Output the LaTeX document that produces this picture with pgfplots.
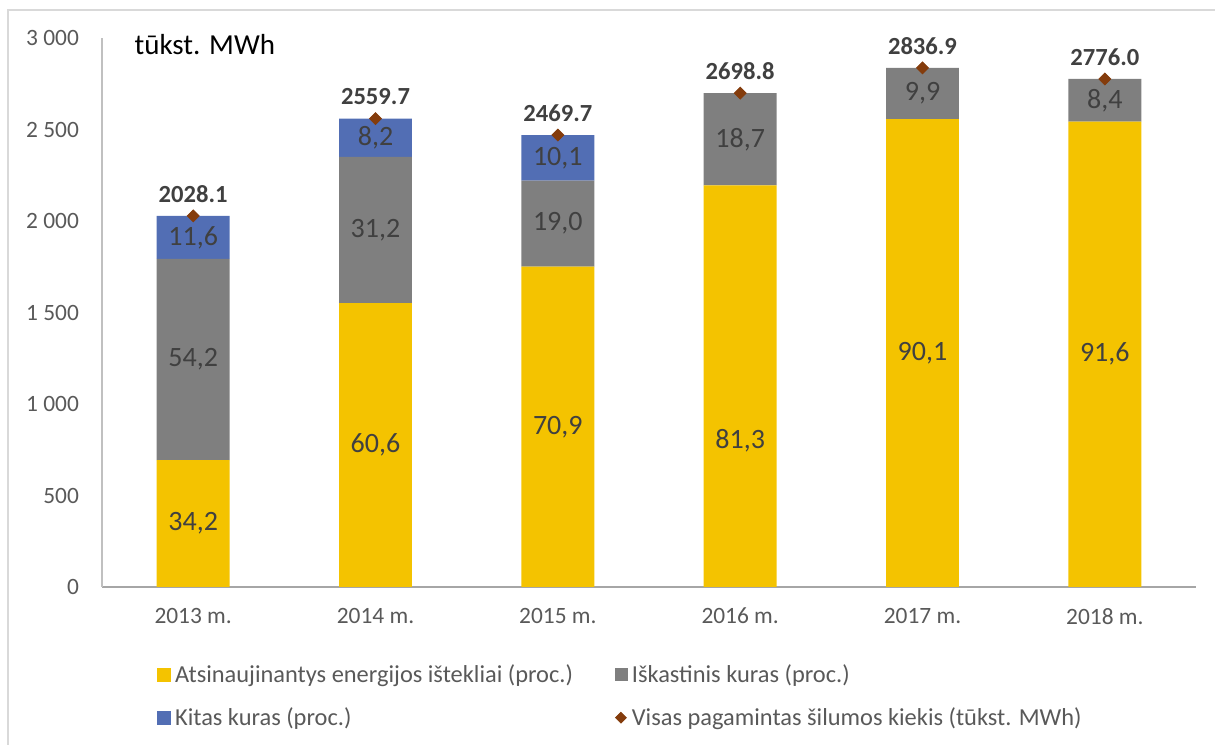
\documentclass[border=0pt]{standalone}
\usepackage{pgfplots}
\pgfplotsset{compat=1.18}
\usepackage{pgfplotstable}
\usepackage{fontspec}
\setmainfont{Carlito}
\definecolor{yel}{HTML}{F4C300}
\definecolor{gra}{HTML}{7F7F7F}
\definecolor{blu}{HTML}{526EB4}
\definecolor{brn}{HTML}{843C0C}
\definecolor{txt}{HTML}{404040}
\definecolor{tickc}{HTML}{595959}
\definecolor{axx}{HTML}{A6A6A6}
\definecolor{axy}{HTML}{C0C0C0}
\definecolor{frame}{HTML}{D9D9D9}

\pgfplotstableread{
x ren fos
0 693.6 1099.2
1 1551.2 798.6
2 1751.0 469.2
3 2194.1 504.7
4 2556.0 280.9
5 2542.8 233.2
}\bars
\pgfplotstableread{
x oth
0 235.3
1 209.9
2 249.4
}\other
\pgfplotstableread{
x y lab
0 346.8 34,2
1 775.6 60,6
2 875.5 70,9
3 798.0 81,3
4 1278.0 90,1
5 1271.4 91,6
0 1243.2 54,2
1 1950.5 31,2
2 1985.6 19,0
3 2446.5 18,7
4 2696.5 9,9
5 2659.4 8,4
0 1910.4 11,6
1 2454.8 8,2
2 2344.9 10,1
}\labs
\pgfplotstableread{
x y lab
0 2028.1 2028.1
1 2559.7 2559.7
2 2469.7 2469.7
3 2698.8 2698.8
4 2836.9 2836.9
5 2776.0 2776.0
}\tots

\begin{document}
\begin{tikzpicture}
\useasboundingbox (0,0) rectangle (607.5pt,372pt);
\draw[frame, line width=0.6pt] (4pt,-2pt) -- (4pt,367pt) -- (610pt,367pt);
\begin{axis}[
  at={(51pt,78.5pt)}, anchor=south west,
  scale only axis, width=547pt, height=274.5pt,
  xmin=-0.5, xmax=5.5, ymin=0, ymax=3000, enlargelimits=false,
  ybar stacked, bar width=0.4,
  xtick={0,...,5},
  xticklabels={2013 m.,2014 m.,2015 m.,2016 m.,2017 m.,2018 m.},
  ytick={0,500,...,3000},
  axis x line*=bottom, axis y line*=left,
  x axis line style={-, draw=axx, line width=0.9pt},
  y axis line style={-, draw=axy, line width=0.6pt},
  major tick length=0pt,
  tick label style={font=\fontsize{11.7}{13}\selectfont, text=tickc},
  /pgf/number format/assume math mode=true,
  /pgf/number format/1000 sep={\ },
  yticklabel style={xshift=-8pt},
  xticklabel style={yshift=-7pt},
  clip=false,
]
\addplot[fill=yel, draw=none] table[x=x, y=ren] {\bars};
\addplot[fill=gra, draw=none] table[x=x, y=fos] {\bars};
\addplot[fill=blu, draw=none] table[x=x, y=oth] {\other};
\end{axis}
\begin{axis}[
  at={(51pt,78.5pt)}, anchor=south west,
  scale only axis, width=547pt, height=274.5pt,
  xmin=-0.5, xmax=5.5, ymin=0, ymax=3000, enlargelimits=false,
  hide axis, clip=false,
  legend columns=2, legend cell align=left,
  legend style={draw=none, fill=none, at={(0.05,-0.133)}, anchor=north west,
    font=\fontsize{12.2}{14}\selectfont, text=tickc, inner sep=0pt, row sep=7pt},
]
\addlegendimage{legend image code/.code={\fill[yel] (0pt,-3.3pt) rectangle (6.6pt,3.3pt);}}
\addlegendentry{\makebox[218pt][l]{Atsinaujinantys energijos ištekliai (proc.)}}
\addlegendimage{legend image code/.code={\fill[gra] (0pt,-3pt) rectangle (6pt,3pt);}}
\addlegendentry{Iškastinis kuras (proc.)}
\addlegendimage{legend image code/.code={\fill[blu] (0pt,-3.3pt) rectangle (6.6pt,3.3pt);}}
\addlegendentry{\makebox[218pt][l]{Kitas kuras (proc.)}}
\addlegendimage{legend image code/.code={\fill[brn] (0pt,0pt) -- (2.7pt,2.7pt) -- (5.4pt,0pt) -- (2.7pt,-2.7pt) -- cycle;}}
\addlegendentry{Visas pagamintas šilumos kiekis (tūkst. MWh)}

\addplot[only marks, mark=none, nodes near coords, point meta=explicit symbolic,
  nodes near coords style={anchor=center, font=\fontsize{14}{16}\selectfont, text=txt}]
  table[x=x, y=y, meta=lab] {\labs};
\addplot[only marks, mark=square*, mark size=2.1pt,
  mark options={rotate=45, fill=brn, draw=brn},
  nodes near coords, point meta=explicit symbolic,
  nodes near coords style={anchor=center, yshift=11pt, font=\bfseries\fontsize{12.3}{14}\selectfont, text=txt}]
  table[x=x, y=y, meta=lab] {\tots};
\node[anchor=west, font=\fontsize{14.5}{16}\selectfont, text=black] at (axis cs:-0.36,2962) {tūkst. MWh};
\end{axis}
\end{tikzpicture}
\end{document}
